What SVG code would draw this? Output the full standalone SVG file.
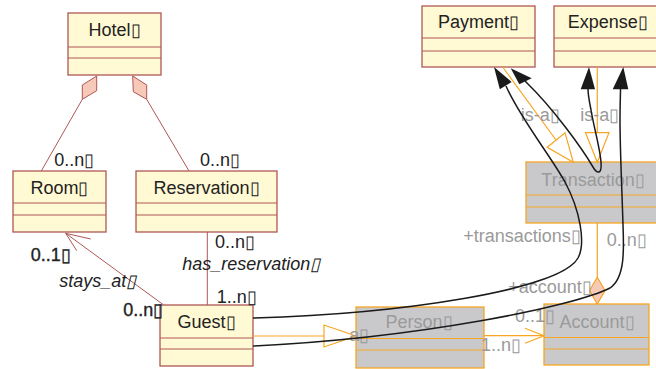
<svg xmlns="http://www.w3.org/2000/svg" width="656" height="369" viewBox="0 0 656 369">
  <style>
    text { font-family: "Liberation Sans", Arial, sans-serif; font-size: 18px; }
    .box { fill: #fff9d4; stroke: #b05656; stroke-width: 1.3; }
    .div { stroke: #b05656; stroke-width: 1; }
    .gbox { fill: #c9c9cb; stroke: #f7a623; stroke-width: 1.3; }
    .gdiv { stroke: #f7a623; stroke-width: 1; }
    .title { fill: #222; text-anchor: middle; }
    .gtitle { fill: #9a9a9a; text-anchor: middle; }
    .lbl { fill: #222; }
    .lblb { fill: #222; stroke: #222; stroke-width: 0.35; }
    .glbl { fill: #9a9a9a; }
    .assoc { stroke: #b05656; stroke-width: 1; fill: none; }
    .agg { fill: #f7c9b9; stroke: #b05656; stroke-width: 1; }
    .ornl { stroke: #f7a623; stroke-width: 1.2; fill: none; }
    .comp { fill: #f7c9b9; stroke: #f7a623; stroke-width: 1.2; }
    .dep { stroke: #1a1a1a; stroke-width: 1.5; fill: none; }
    .head { fill: #1a1a1a; stroke: none; }
  </style>

  <!-- class nodes -->
  <g id="Hotel">
    <rect class="box" x="68" y="13" width="93" height="62"/>
    <line class="div" x1="68" y1="47" x2="161" y2="47"/>
    <line class="div" x1="68" y1="58" x2="161" y2="58"/>
    <text class="title" x="114.5" y="36">Hotel▯</text>
  </g>
  <g id="Room">
    <rect class="box" x="13" y="171" width="93" height="61"/>
    <line class="div" x1="13" y1="203" x2="106" y2="203"/>
    <line class="div" x1="13" y1="215" x2="106" y2="215"/>
    <text class="title" x="59.5" y="194.3">Room▯</text>
  </g>
  <g id="Reservation">
    <rect class="box" x="136" y="171" width="141" height="61"/>
    <line class="div" x1="136" y1="203" x2="277" y2="203"/>
    <line class="div" x1="136" y1="215" x2="277" y2="215"/>
    <text class="title" x="206.5" y="194.3">Reservation▯</text>
  </g>
  <g id="Guest">
    <rect class="box" x="160" y="305" width="93" height="61"/>
    <line class="div" x1="160" y1="338" x2="253" y2="338"/>
    <line class="div" x1="160" y1="349" x2="253" y2="349"/>
    <text class="title" x="206.5" y="327.7">Guest▯</text>
  </g>
  <g id="Payment">
    <rect class="box" x="422" y="6" width="113" height="61"/>
    <line class="div" x1="422" y1="38" x2="535" y2="38"/>
    <line class="div" x1="422" y1="51" x2="535" y2="51"/>
    <text class="title" x="478.5" y="28.3">Payment▯</text>
  </g>
  <g id="Expense">
    <rect class="box" x="554" y="6" width="108" height="61"/>
    <line class="div" x1="554" y1="38" x2="662" y2="38"/>
    <line class="div" x1="554" y1="51" x2="662" y2="51"/>
    <text class="title" x="607.7" y="28.3">Expense▯</text>
  </g>
  <g id="Transaction">
    <rect class="gbox" x="526" y="162" width="134" height="61"/>
    <line class="gdiv" x1="526" y1="195" x2="660" y2="195"/>
    <line class="gdiv" x1="526" y1="207" x2="660" y2="207"/>
    <text class="gtitle" x="593" y="185.7">Transaction▯</text>
  </g>
  <g id="Person">
    <rect class="gbox" x="356" y="307" width="128" height="61"/>
    <line class="gdiv" x1="356" y1="338.5" x2="484" y2="338.5"/>
    <line class="gdiv" x1="356" y1="350" x2="484" y2="350"/>
    <text class="gtitle" x="419" y="327.7">Person▯</text>
  </g>
  <g id="Account">
    <rect class="gbox" x="544" y="304" width="105" height="61"/>
    <line class="gdiv" x1="544" y1="337.5" x2="649" y2="337.5"/>
    <line class="gdiv" x1="544" y1="349" x2="649" y2="349"/>
    <text class="gtitle" x="597" y="327.7">Account▯</text>
  </g>

  <!-- connectors -->
  <g id="connectors">
    <!-- Hotel aggregations -->
    <polygon class="agg" points="82.3,85 96.7,76 96.7,90.7 82.3,99.3"/>
    <line class="assoc" x1="82.3" y1="99.3" x2="41.3" y2="171"/>
    <polygon class="agg" points="132.7,76 146.7,85 146.7,99.3 133.3,91.7"/>
    <line class="assoc" x1="146.7" y1="99.3" x2="189" y2="171"/>
    <text class="lbl" x="54.3" y="165.7">0..n▯</text>
    <text class="lbl" x="200" y="165.7">0..n▯</text>

    <!-- Guest stays_at Room -->
    <line class="assoc" x1="163.3" y1="304.7" x2="65.7" y2="233.3"/>
    <polyline class="assoc" points="90.7,239 65.7,233.3 76.7,250.7"/>
    <text class="lblb" x="30.7" y="260.7">0..1▯</text>
    <text class="lbl" x="59.3" y="286.7" font-style="italic">stays_at▯</text>
    <text class="lblb" x="123.3" y="315.7">0..n▯</text>

    <!-- Guest has_reservation Reservation -->
    <line class="assoc" x1="207.3" y1="232" x2="207.3" y2="305"/>
    <text class="lbl" x="215" y="247.7">0..n▯</text>
    <text class="lbl" x="182.3" y="270" font-style="italic">has_reservation▯</text>
    <text class="lbl" x="216.7" y="302.7">1..n▯</text>

    <!-- Guest is-a Person -->
    <line class="ornl" x1="253" y1="336" x2="324" y2="336"/>
    <polygon class="ornl" points="324,325 324,347 356,336"/>
    <text class="glbl" x="349.3" y="341">a▯</text>

    <!-- Person to Account -->
    <line class="ornl" x1="484" y1="335.7" x2="544" y2="335.7"/>
    <polyline class="ornl" points="525,328.3 544,335.7 525,343.3"/>
    <text class="glbl" x="481" y="351">1..n▯</text>
    <text class="glbl" x="515" y="322.3">0..1▯</text>

    <!-- Transaction composed in Account -->
    <line class="ornl" x1="597.3" y1="223" x2="597.3" y2="277.3"/>
    <polygon class="comp" points="597.3,277.3 605,290.5 597.3,304 589.5,290.5"/>
    <text class="glbl" x="463.3" y="241.7">+transactions▯</text>
    <text class="glbl" x="606.7" y="245.7">0..n▯</text>
    <text class="glbl" x="508.3" y="292.7">+account▯</text>

    <!-- Transaction is-a Payment / Expense -->
    <line class="ornl" x1="502.7" y1="67" x2="556" y2="140"/>
    <polygon class="ornl" points="547.3,147.3 565,132.7 573.3,162.3"/>
    <line class="ornl" x1="597.3" y1="67" x2="597.3" y2="132.7"/>
    <polygon class="ornl" points="585.5,132.7 609,132.7 597.3,162.3"/>
    <text class="glbl" x="520.7" y="120.7">is-a▯</text>
    <text class="glbl" x="580.3" y="120.7">is-a▯</text>

    <!-- dependency curves -->
    <path class="dep" d="M253,318 C400,314 560,290 578,258 C586,243 580,210 565,182 C550,155 520,118 506,86"/>
    <polygon class="head" points="494,67 511.6,81.9 499.8,89.3"/>
    <path class="dep" d="M253,346 C420,338 575,306 610,288 C625,278 624,250 623,225 C622,190 620,150 620,120 C620,105 620.5,95 620.5,89"/>
    <polygon class="head" points="623.3,67 628.3,89.3 612.7,89.3"/>
    <path class="dep" d="M525,81 C555,110 583,150 593,167 C597,174 602,175 601,162 C600,148 594,128 591,110 C589,100 588,95 588,89"/>
    <polygon class="head" points="510.7,68.3 531.7,78.3 519.3,84.3"/>
    <polygon class="head" points="589,67 595,89.3 580.7,89.3"/>
  </g>
</svg>
